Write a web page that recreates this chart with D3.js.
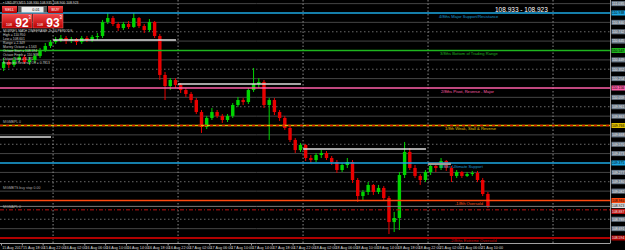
<!DOCTYPE html>
<html>
<head>
<meta charset="utf-8">
<title>USDJPY,M15 Murrey Math</title>
<script src="https://d3js.org/d3.v7.min.js"></script>
<style>
  body { margin: 0; background: #000; }
  svg { display: block; font-family: "Liberation Sans", Arial, sans-serif; }
</style>
</head>
<body>
<div id="chart"></div>
<script>
// hourly candles, bar 0 = 15 Aug 2017 14:00
var opens = [
  110.365, 110.427, 110.396, 110.448, 110.479, 110.427, 110.448, 110.490, 110.552, 110.594,
  110.635, 110.656, 110.677, 110.646, 110.667, 110.635, 110.677, 110.656, 110.688, 110.698,
  110.844, 110.885, 110.823, 110.781, 110.823, 110.792, 110.885, 110.802, 110.760, 110.844,
  110.698, 110.292, 110.177, 110.240, 110.188, 110.135, 110.094, 110.031, 109.906, 109.750,
  109.844, 109.906, 109.865, 109.823, 109.865, 109.979, 110.031, 110.010, 110.135, 110.198,
  110.219, 109.979, 110.031, 109.906, 109.844, 109.740, 109.615, 109.510, 109.563, 109.427,
  109.406, 109.458, 109.479, 109.427, 109.385, 109.302, 109.354, 109.385, 109.198, 109.031,
  109.073, 109.146, 109.073, 109.115, 109.010, 108.760, 108.802, 109.250, 109.490, 109.323,
  109.240, 109.198, 109.281, 109.344, 109.323, 109.396, 109.323, 109.240, 109.281, 109.240,
  109.260, 109.271, 109.198, 109.052
];
var highs = [
  110.469, 110.448, 110.479, 110.510, 110.500, 110.479, 110.510, 110.573, 110.625, 110.656,
  110.688, 110.708, 110.698, 110.688, 110.677, 110.698, 110.698, 110.708, 110.729, 110.865,
  110.938, 110.906, 110.844, 110.844, 110.854, 110.938, 110.896, 110.823, 110.875, 110.854,
  110.719, 110.323, 110.260, 110.260, 110.208, 110.156, 110.115, 110.052, 109.927, 109.865,
  109.948, 109.927, 109.885, 109.885, 110.000, 110.063, 110.052, 110.156, 110.365, 110.260,
  110.240, 110.052, 110.052, 109.927, 109.865, 109.760, 109.635, 109.583, 109.573, 109.458,
  109.479, 109.510, 109.500, 109.448, 109.406, 109.375, 109.427, 109.406, 109.219, 109.094,
  109.177, 109.156, 109.146, 109.135, 109.031, 108.865, 109.281, 109.594, 109.531, 109.354,
  109.260, 109.302, 109.375, 109.365, 109.427, 109.406, 109.344, 109.302, 109.292, 109.281,
  109.292, 109.292, 109.219, 109.073
];
var lows = [
  110.333, 110.365, 110.375, 110.427, 110.406, 110.396, 110.417, 110.469, 110.531, 110.573,
  110.615, 110.635, 110.615, 110.625, 110.604, 110.615, 110.635, 110.635, 110.656, 110.677,
  110.823, 110.802, 110.750, 110.760, 110.771, 110.781, 110.781, 110.729, 110.740, 110.677,
  110.240, 110.031, 110.135, 110.156, 110.104, 110.063, 110.000, 109.885, 109.688, 109.729,
  109.823, 109.844, 109.792, 109.802, 109.844, 109.958, 109.979, 109.990, 110.115, 110.156,
  109.948, 109.615, 109.875, 109.813, 109.719, 109.594, 109.479, 109.490, 109.396, 109.375,
  109.385, 109.427, 109.406, 109.354, 109.271, 109.281, 109.323, 109.167, 108.969, 108.990,
  109.042, 109.042, 109.052, 108.990, 108.635, 108.656, 108.677, 109.219, 109.302, 109.219,
  109.146, 109.177, 109.250, 109.281, 109.302, 109.292, 109.177, 109.219, 109.219, 109.229,
  109.240, 109.177, 109.031, 108.906
];
var closes = [
  110.427, 110.396, 110.448, 110.479, 110.427, 110.448, 110.490, 110.552, 110.594, 110.635,
  110.656, 110.677, 110.646, 110.667, 110.635, 110.677, 110.656, 110.688, 110.698, 110.844,
  110.885, 110.823, 110.781, 110.823, 110.792, 110.885, 110.802, 110.760, 110.844, 110.698,
  110.292, 110.177, 110.240, 110.188, 110.135, 110.094, 110.031, 109.906, 109.750, 109.844,
  109.906, 109.865, 109.823, 109.865, 109.979, 110.031, 110.010, 110.135, 110.198, 110.219,
  109.979, 110.031, 109.906, 109.844, 109.740, 109.615, 109.510, 109.563, 109.427, 109.406,
  109.458, 109.479, 109.427, 109.385, 109.302, 109.354, 109.385, 109.198, 109.031, 109.073,
  109.146, 109.073, 109.115, 109.010, 108.760, 108.802, 109.250, 109.490, 109.323, 109.240,
  109.198, 109.281, 109.344, 109.323, 109.396, 109.323, 109.240, 109.281, 109.240, 109.260,
  109.271, 109.198, 109.052, 108.923
];

// Murrey math levels (4/8 down to -2/8)
var mmLevels = [110.9375, 110.546875, 110.15625, 109.765625, 109.375, 108.984375, 108.59375];
var mmNames = [
  "4/8ths Major Support/Resistance",
  "3/8ths Bottom of Trading Range",
  "2/8ths Pivot, Reverse - Major",
  "1/8th Weak, Stall & Reverse",
  "0/8ths Ultimate Support",
  "-1/8th Oversold",
  "-2/8ths Extreme Oversold"
];
var quarterLevels = [111.035, 110.840, 110.645, 110.449, 110.254, 110.059, 109.863,
                     109.668, 109.473, 109.277, 109.082, 108.691];
var midLevels = [110.742, 110.352, 109.961, 109.570, 109.180, 108.789];
var dashLevel = 108.887;
var bidPrice = 108.923, askPrice = 108.933;

// previous day close segments (bar index from / to)
var prevFrom = [-1, 10, 34, 58, 82];
var prevTo = [9.6, 33.6, 57.6, 81.6, 86.4];
var prevPrice = [109.646, 110.656, 110.198, 109.521, 109.365];

var daySeparators = [10, 34, 58, 82, 106];

var timeBars = [0, 4, 8, 12, 16, 20, 24, 28, 32, 36, 40, 44, 48, 52, 56, 60, 64, 68, 72, 76, 80, 84, 88, 92];
var timeLabels = ["15 Aug 2017", "15 Aug 18:00", "15 Aug 22:00", "16 Aug 02:00", "16 Aug 06:00",
  "16 Aug 10:00", "16 Aug 14:00", "16 Aug 18:00", "16 Aug 22:00", "17 Aug 02:00", "17 Aug 06:00",
  "17 Aug 10:00", "17 Aug 14:00", "17 Aug 18:00", "17 Aug 22:00", "18 Aug 02:00", "18 Aug 06:00",
  "18 Aug 10:00", "18 Aug 14:00", "18 Aug 18:00", "18 Aug 22:00", "21 Aug 02:00", "21 Aug 06:00",
  "21 Aug 10:00"];

var priceTicks = [111.035, 110.9375, 110.840, 110.742, 110.645, 110.546875, 110.449, 110.352,
  110.254, 110.15625, 110.059, 109.961, 109.863, 109.765625, 109.668, 109.570, 109.473, 109.375,
  109.277, 109.180, 109.082, 108.984375, 108.887, 108.789, 108.691, 108.59375];

var infoLines = [
  "MURREY MATH TIMEFRAME 1h,64 PERIODS",
  "High = 110.950",
  "Low = 108.601",
  "Range = 2.349",
  "Murrey Octave = 1.563",
  "Octave Start = 108.594",
  "Octave Finish = 110.938",
  "Octave Step = 0.391",
  "Expected Reversal Off = 0.7813"
];
var sideNotes = ["MGMBPL 0", "MGMBTS buy stop 0.00", "MGMAPL 0"];
var sideNotePrice = [109.790, 109.105, 108.905];

// ---------------------------------------------------------------
var W = 625, H = 250, plotR = 610, plotB = 243;
var upCol = "#00d400", downCol = "#e80000";
var mmColors = ["#1ca8e3", "#1fb51f", "#ff5fa8", "#e0c000", "#1ca8e3", "#ff4a10", "#b00000"];
var mmTextColors = ["#1a9ad4", "#20b020", "#ff5fa8", "#e6c200", "#1a9ad4", "#ff5a20", "#d00000"];
var labelX = [439, 440, 441, 445, 440, 455, 450];

var svg = d3.select('#chart').append('svg').attr('width', W).attr('height', H);
svg.append('rect').attr('width', W).attr('height', H).attr('fill', '#000');

var defs = svg.append('defs');
defs.append('clipPath').attr('id', 'clip').append('rect')
  .attr('x', 0).attr('y', 0).attr('width', plotR).attr('height', plotB);
var grad = defs.append('linearGradient').attr('id', 'btn').attr('x1', 0).attr('y1', 0).attr('x2', 0).attr('y2', 1);
grad.append('stop').attr('offset', '0%').attr('stop-color', '#f24a4a');
grad.append('stop').attr('offset', '100%').attr('stop-color', '#b80000');

var x = d3.scaleLinear().domain([0, 116.75]).range([1, 609]);
var y = d3.scaleLinear().domain([110.9375, 108.59375]).range([13, 238]);

var plot = svg.append('g').attr('clip-path', 'url(#clip)');

// gray sub levels
plot.selectAll('line.q').data(quarterLevels).join('line').attr('class', 'q')
  .attr('x1', 0).attr('x2', plotR).attr('y1', d => y(d)).attr('y2', d => y(d))
  .attr('stroke', '#454545').attr('stroke-width', 1);
plot.selectAll('line.m').data(midLevels).join('line').attr('class', 'm')
  .attr('x1', 0).attr('x2', plotR).attr('y1', d => y(d)).attr('y2', d => y(d))
  .attr('stroke', '#6a6a6a').attr('stroke-width', 1).attr('stroke-dasharray', '1.5,2.5');

// day separators
plot.selectAll('line.sep').data(daySeparators).join('line').attr('class', 'sep')
  .attr('x1', d => x(d)).attr('x2', d => x(d)).attr('y1', 0).attr('y2', plotB)
  .attr('stroke', '#8a8a8a').attr('stroke-width', 1).attr('stroke-dasharray', '1.5,2');

// candles
var bars = d3.range(opens.length);
var col = i => closes[i] >= opens[i] ? upCol : downCol;
plot.selectAll('line.wick').data(bars).join('line').attr('class', 'wick')
  .attr('x1', i => x(i + 0.5)).attr('x2', i => x(i + 0.5))
  .attr('y1', i => y(highs[i])).attr('y2', i => y(lows[i]))
  .attr('stroke', col).attr('stroke-width', 1);
plot.selectAll('rect.body').data(bars).join('rect').attr('class', 'body')
  .attr('x', i => x(i + 0.5) - 1.7).attr('width', 3.4)
  .attr('y', i => y(Math.max(opens[i], closes[i])))
  .attr('height', i => Math.max(1, Math.abs(y(opens[i]) - y(closes[i]))))
  .attr('fill', col);

// red dash-dot sub level and bid line
plot.append('line').attr('x1', 0).attr('x2', plotR).attr('y1', y(dashLevel)).attr('y2', y(dashLevel))
  .attr('stroke', '#c01010').attr('stroke-width', 1).attr('stroke-dasharray', '4,2,1,2');
plot.append('line').attr('x1', 0).attr('x2', plotR).attr('y1', y(bidPrice)).attr('y2', y(bidPrice))
  .attr('stroke', '#7a7a7a').attr('stroke-width', 1);

// murrey lines
plot.selectAll('line.mm').data(mmLevels).join('line').attr('class', 'mm')
  .attr('x1', 0).attr('x2', plotR).attr('y1', d => y(d)).attr('y2', d => y(d))
  .attr('stroke', (d, i) => mmColors[i]).attr('stroke-width', (d, i) => i === 6 ? 2 : 1.3);
plot.append('line').attr('x1', 0).attr('x2', plotR).attr('y1', y(mmLevels[3])).attr('y2', y(mmLevels[3]))
  .attr('stroke', '#e02000').attr('stroke-width', 1.3).attr('stroke-dasharray', '3,3');

// previous day close segments
plot.selectAll('line.pc').data(prevPrice).join('line').attr('class', 'pc')
  .attr('x1', (d, i) => x(prevFrom[i])).attr('x2', (d, i) => x(prevTo[i]))
  .attr('y1', d => y(d)).attr('y2', d => y(d))
  .attr('stroke', (d, i) => i === 4 ? '#9a9a9a' : '#dcdcdc').attr('stroke-width', (d, i) => i === 4 ? 2.2 : 1.4);

// murrey labels
plot.selectAll('text.mml').data(mmNames).join('text').attr('class', 'mml')
  .attr('x', (d, i) => labelX[i]).attr('y', (d, i) => y(mmLevels[i]) + (i === 6 ? 3.8 : 4.8))
  .attr('fill', (d, i) => mmTextColors[i]).attr('font-size', 4.1).text(d => d);

// side notes
plot.selectAll('text.sn').data(sideNotes).join('text').attr('class', 'sn')
  .attr('x', 3).attr('y', (d, i) => y(sideNotePrice[i]))
  .attr('fill', '#a8a8a8').attr('font-size', 3.5).text(d => d);

// ask - bid text
svg.append('text').attr('x', 495).attr('y', 11.5).attr('fill', '#fff').attr('font-size', 6.5)
  .text(d3.format('.3f')(askPrice) + ' - ' + d3.format('.3f')(bidPrice));

// header and info block
svg.append('text').attr('x', 3).attr('y', 4.2).attr('fill', '#d8d8d8').attr('font-size', 3.4)
  .text('\u2022 USDJPY,M15  108.930 108.935 108.900 ' + d3.format('.3f')(bidPrice));
svg.selectAll('text.info').data(infoLines).join('text').attr('class', 'info')
  .attr('x', 3).attr('y', (d, i) => [31.9, 35.5, 39.5, 43.9, 47.9, 51.9, 55.5, 59.5, 63.5][i])
  .attr('fill', '#cfcfcf').attr('font-size', 3.3).text(d => d);

// one-click trading panel
var pnl = svg.append('g');
pnl.append('rect').attr('x', 2).attr('y', 6).attr('width', 15).attr('height', 7).attr('fill', 'url(#btn)');
pnl.append('text').attr('x', 9.5).attr('y', 11).attr('text-anchor', 'middle').attr('fill', '#fff').attr('font-size', 3.8).text('SELL');
pnl.append('rect').attr('x', 48).attr('y', 6).attr('width', 15).attr('height', 7).attr('fill', 'url(#btn)');
pnl.append('text').attr('x', 55.5).attr('y', 11).attr('text-anchor', 'middle').attr('fill', '#fff').attr('font-size', 3.8).text('BUY');
pnl.append('rect').attr('x', 18).attr('y', 6.5).attr('width', 29).attr('height', 6).attr('fill', '#ececec');
pnl.append('rect').attr('x', 18).attr('y', 6.5).attr('width', 3.5).attr('height', 6).attr('fill', '#555');
pnl.append('rect').attr('x', 43.5).attr('y', 6.5).attr('width', 3.5).attr('height', 6).attr('fill', '#555');
pnl.append('text').attr('x', 36).attr('y', 11).attr('text-anchor', 'middle').attr('fill', '#000').attr('font-size', 3.8).text('0.01');
[[2, '92'], [33, '93']].forEach(function (b) {
  pnl.append('rect').attr('x', b[0]).attr('y', 14).attr('width', 30).attr('height', 14)
    .attr('fill', 'url(#btn)').attr('stroke', '#ff7070').attr('stroke-width', 0.5);
  pnl.append('text').attr('x', b[0] + 4).attr('y', 25.5).attr('fill', '#fff').attr('font-size', 3.6).text('108');
  pnl.append('text').attr('x', b[0] + 20).attr('y', 26.5).attr('text-anchor', 'middle').attr('fill', '#fff')
    .attr('font-size', 12).attr('font-weight', 'bold').text(b[1]);
  pnl.append('text').attr('x', b[0] + 26.5).attr('y', 18.5).attr('fill', '#fff').attr('font-size', 4.5).text('3');
});

// frame
svg.append('line').attr('x1', plotR + 0.5).attr('x2', plotR + 0.5).attr('y1', 0).attr('y2', plotB)
  .attr('stroke', '#a0a0a0');
svg.append('line').attr('x1', 0).attr('x2', plotR + 0.5).attr('y1', plotB + 0.5).attr('y2', plotB + 0.5)
  .attr('stroke', '#a0a0a0');

// price axis labels
var fmt = d3.format('.3f');
var mmIndex = p => mmLevels.indexOf(p);
var ax = svg.append('g');
function axisLabel(p, fill, tcol, dy) {
  ax.append('rect').attr('x', plotR + 1.5).attr('y', y(p) - 2.5 + dy).attr('width', 13.5).attr('height', 5)
    .attr('fill', fill);
  ax.append('text').attr('x', plotR + 2).attr('y', y(p) + 1.4 + dy).attr('fill', tcol)
    .attr('font-size', 3.8).attr('textLength', 12.3).attr('lengthAdjust', 'spacingAndGlyphs').text(fmt(p));
}
priceTicks.forEach(function (p) {
  var k = mmIndex(p);
  var fill = k >= 0 ? mmColors[k] : (p === dashLevel ? '#c01010' : '#6f7d8c');
  var tcol = k >= 0 && k !== 6 ? '#000' : '#eeeeee';
  axisLabel(p, fill, tcol, p === dashLevel ? 1.6 : 0);
});
axisLabel(bidPrice, '#e0e0e0', '#000', -0.8);

// time axis
var tx = svg.append('g');
tx.selectAll('line').data(timeBars).join('line')
  .attr('x1', d => x(d) + 0.5).attr('x2', d => x(d) + 0.5).attr('y1', plotB).attr('y2', plotB + 2.5)
  .attr('stroke', '#a0a0a0');
tx.selectAll('text').data(timeLabels).join('text')
  .attr('x', (d, i) => x(timeBars[i]) + 1.2).attr('y', 248.6)
  .attr('fill', '#dcdcdc').attr('font-size', 3.7).text(d => d);
</script>
</body>
</html>
